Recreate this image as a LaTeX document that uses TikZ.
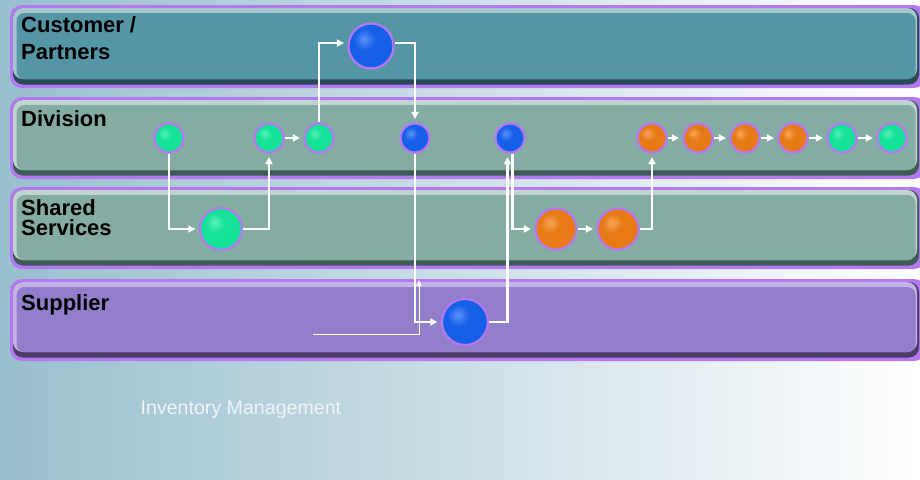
\documentclass[tikz,border=0pt]{standalone}
\usepackage{fontspec}
\setmainfont{Liberation Sans}
\usetikzlibrary{arrows.meta}
\definecolor{bgl}{RGB}{152,191,206}
\definecolor{halo}{RGB}{182,120,242}
\definecolor{laneA}{RGB}{85,150,166}
\definecolor{laneAl}{RGB}{165,200,206}
\definecolor{laneAd}{RGB}{40,76,86}
\definecolor{laneB}{RGB}{132,172,162}
\definecolor{laneBl}{RGB}{192,212,208}
\definecolor{laneBd}{RGB}{60,92,86}
\definecolor{laneC}{RGB}{147,126,204}
\definecolor{laneCl}{RGB}{195,180,228}
\definecolor{laneCd}{RGB}{76,60,104}
\definecolor{txtw}{RGB}{240,245,250}
\pgfdeclareradialshading{greenball}{\pgfpoint{-8bp}{8bp}}{%
 color(0bp)=(rgb,255:red,90;green,240;blue,185);
 color(12bp)=(rgb,255:red,20;green,226;blue,150);
 color(40bp)=(rgb,255:red,20;green,226;blue,150);
 color(50bp)=(rgb,255:red,14;green,170;blue,110);
 color(60bp)=(rgb,255:red,8;green,110;blue,70);
 color(100bp)=(rgb,255:red,8;green,110;blue,70)}
\pgfdeclareradialshading{blueball}{\pgfpoint{-8bp}{8bp}}{%
 color(0bp)=(rgb,255:red,90;green,145;blue,245);
 color(12bp)=(rgb,255:red,22;green,96;blue,232);
 color(40bp)=(rgb,255:red,22;green,96;blue,232);
 color(50bp)=(rgb,255:red,15;green,65;blue,170);
 color(60bp)=(rgb,255:red,8;green,35;blue,110);
 color(100bp)=(rgb,255:red,8;green,35;blue,110)}
\pgfdeclareradialshading{orangeball}{\pgfpoint{-8bp}{8bp}}{%
 color(0bp)=(rgb,255:red,245;green,165;blue,90);
 color(12bp)=(rgb,255:red,232;green,122;blue,22);
 color(40bp)=(rgb,255:red,232;green,122;blue,22);
 color(50bp)=(rgb,255:red,175;green,85;blue,14);
 color(60bp)=(rgb,255:red,110;green,50;blue,8);
 color(100bp)=(rgb,255:red,110;green,50;blue,8)}
\newcommand{\lanebar}[3]{%
 \fill[halo, rounded corners=12pt] (10,#1) rectangle (926,#2);
 \fill[#3d, rounded corners=10pt] (13,#1+3) rectangle (919,#2-3.5);
 \fill[#3l, rounded corners=10pt] (13,#1+3) rectangle (917,#2-9);
 \fill[#3, rounded corners=8pt] (16.5,#1+8) rectangle (915.5,#2-9);
}
\tikzset{
 ball/.style={circle, draw=halo, line width=2.2pt, inner sep=0pt, minimum size=#1, shade},
 gball/.style={ball=#1, shading=greenball},
 bball/.style={ball=#1, shading=blueball},
 oball/.style={ball=#1, shading=orangeball},
 flow/.style={draw=white, line width=2.2pt, -{Triangle[length=7pt,width=7pt]}, shorten >=3.5pt},
 thinflow/.style={draw=white, line width=1pt, -{Triangle[length=6pt,width=5pt]}},
 lanelabel/.style={anchor=base west, inner sep=0pt, font=\fontsize{22}{26}\selectfont\bfseries, text=black},
}
\begin{document}
\begin{tikzpicture}[x=1pt, y=-1pt]
\useasboundingbox (0,0) rectangle (920,479);
\shade[left color=bgl, right color=white] (0,0) rectangle (920,479);
\lanebar{5}{88}{laneA}
\lanebar{97}{179}{laneB}
\lanebar{187}{269}{laneB}
\lanebar{279}{361}{laneC}

\node[lanelabel] (l1a) at (21,32.3) {Customer /};
\node[lanelabel] (l1b) at (21,59) {Partners};
\node[lanelabel] (l2) at (21,126) {Division};
\node[lanelabel] (l3a) at (21,215) {Shared};
\node[lanelabel] (l3b) at (21,235) {Services};
\node[lanelabel] (l4) at (21,310.5) {Supplier};
\node[anchor=base west, inner sep=0pt, font=\fontsize{19.6}{23}\selectfont, text=txtw] (cap) at (140.5,414) {Inventory Management};

% Division row
\node[gball=29pt] (c1) at (169,138) {};
\node[gball=29pt] (c2) at (269,138) {};
\node[gball=29pt] (c3) at (319,138) {};
\node[bball=29pt] (c4) at (415,138) {};
\node[bball=29pt] (c5) at (510,138) {};
\node[oball=29pt] (c6) at (652,138) {};
\node[oball=29pt] (c7) at (698,138) {};
\node[oball=29pt] (c8) at (745,138) {};
\node[oball=29pt] (c9) at (793,138) {};
\node[gball=29pt] (c10) at (842,138) {};
\node[gball=29pt] (c11) at (892,138) {};
% other lanes
\node[bball=45pt] (cb) at (371,46) {};
\node[gball=42pt] (sg) at (221,229) {};
\node[oball=41pt] (o1) at (556,229) {};
\node[oball=41pt] (o2) at (618,229) {};
\node[bball=46pt] (sb) at (465,322) {};

\coordinate (tin) at (313,334);
\coordinate (tup) at (419,280);

% connectors
\draw[flow] (c1.south) |- (sg.west);
\draw[flow] (sg.east) -| (c2.south);
\draw[flow] (c2) -- (c3);
\draw[flow] (c3.north) |- ([yshift=3pt]cb.west);
\draw[flow] ([yshift=3pt]cb.east) -| (c4.north);
\draw[flow] (c4.south) |- (sb.west);
\draw[thinflow] (tin) -| (tup);
\draw[flow] (sb.east) -| ([xshift=-2.5pt]c5.south);
\draw[flow] ([xshift=2.5pt]c5.south) |- (o1.west);
\draw[flow] (o1) -- (o2);
\draw[flow] (o2.east) -| (c6.south);
\draw[flow] (c6) -- (c7);
\draw[flow] (c7) -- (c8);
\draw[flow] (c8) -- (c9);
\draw[flow] (c9) -- (c10);
\draw[flow] (c10) -- (c11);
\end{tikzpicture}
\end{document}
